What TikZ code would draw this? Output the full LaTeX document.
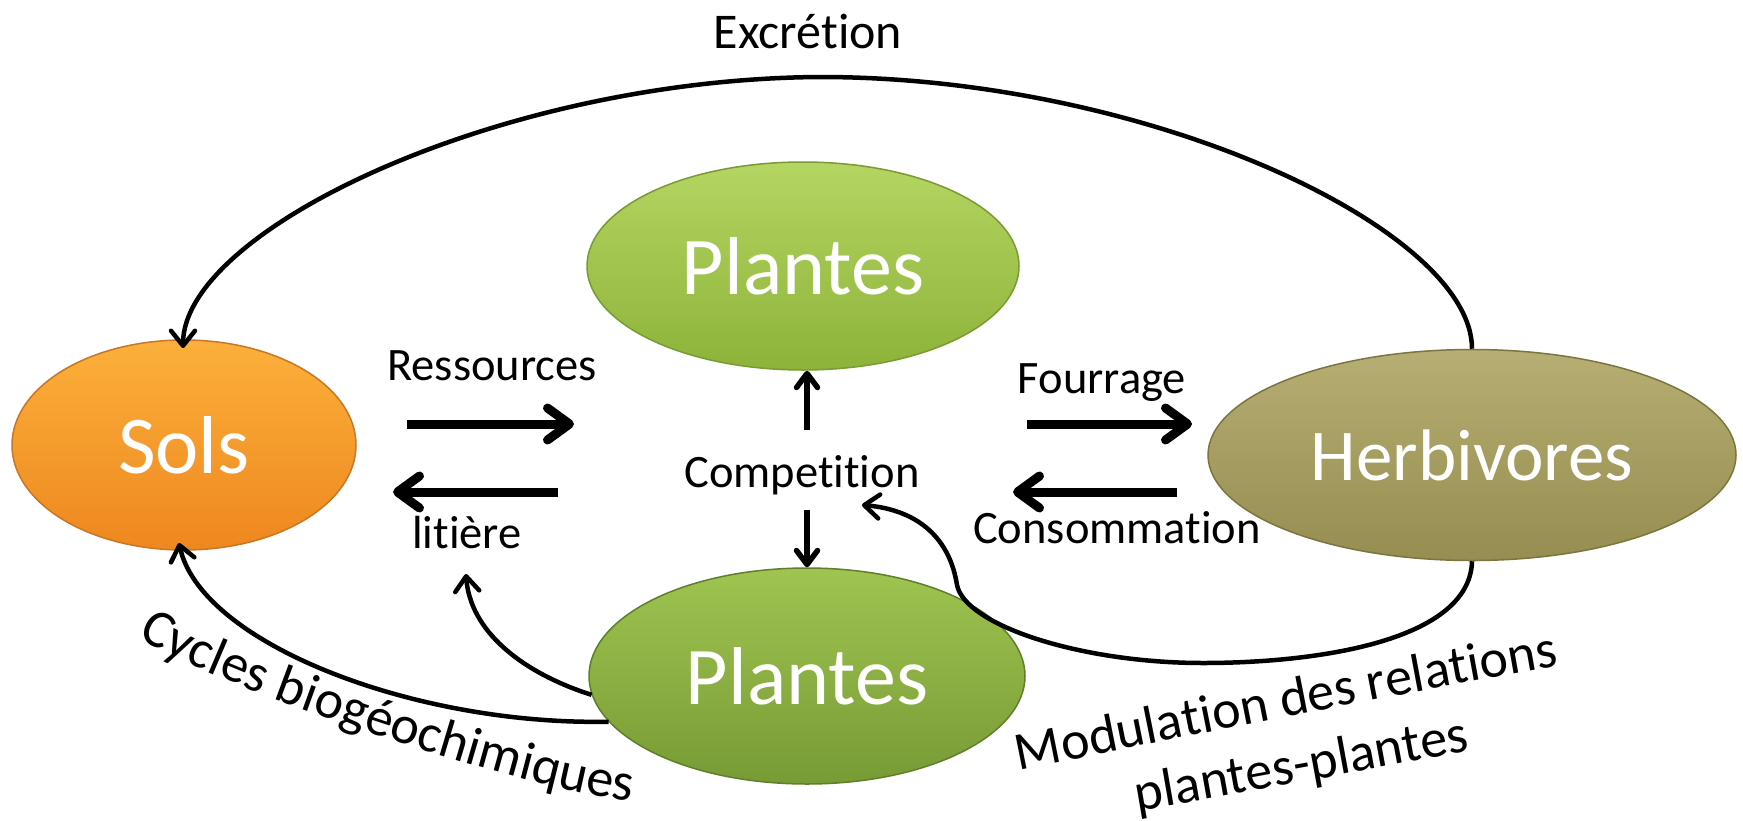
\documentclass[tikz,border=0pt]{standalone}
\usepackage{fontspec}
\setmainfont{Carlito}[Ligatures=NoCommon]
\usetikzlibrary{arrows.meta,shapes.geometric,decorations.text,calc}

\definecolor{solsTop}{HTML}{FBB03B}
\definecolor{solsMid}{HTML}{F7941E}
\definecolor{solsBot}{HTML}{EE871F}
\definecolor{solsEdge}{HTML}{C97626}
\definecolor{plaTop}{HTML}{B5D562}
\definecolor{plaMid}{HTML}{9EC245}
\definecolor{plaBot}{HTML}{8DB33A}
\definecolor{plaEdge}{HTML}{7A9A34}
\definecolor{plbTop}{HTML}{A0C450}
\definecolor{plbMid}{HTML}{85A93D}
\definecolor{plbBot}{HTML}{779B35}
\definecolor{plbEdge}{HTML}{5F7F2A}
\definecolor{herTop}{HTML}{B6AE72}
\definecolor{herMid}{HTML}{A39B5C}
\definecolor{herBot}{HTML}{968E50}
\definecolor{herEdge}{HTML}{7C7540}

\begin{document}
\begin{tikzpicture}[x=1pt,y=-1pt,
  blob/.style={ellipse, inner sep=0pt, line width=1.5pt, text=white},
  bigfont/.style={font=\fontsize{82}{90}\selectfont},
  lab/.style={font=\fontsize{46.5}{52}\selectfont, anchor=base, inner sep=0pt},
  fat/.style={line width=9pt, -{Straight Barb[length=22pt,width=32pt,round]}},
  link/.style={line width=4.5pt, -{Straight Barb[length=15pt,width=24pt,round]}},
  compet/.style={line width=5.5pt, -{Straight Barb[length=14pt,width=21pt,round]}}
]
\useasboundingbox (0,0) rectangle (1743,820);
\fill[white] (0,0) rectangle (1743,820);

% the four compartments
\node[blob, bigfont, minimum width=344pt, minimum height=210pt,
      draw=solsEdge, top color=solsTop, middle color=solsMid, bottom color=solsBot]
      (sols) at (184,445) {Sols};
\node[blob, bigfont, minimum width=432pt, minimum height=208pt,
      draw=plaEdge, top color=plaTop, middle color=plaMid, bottom color=plaBot]
      (p1) at (803,266) {Plantes};
\node[blob, bigfont, minimum width=436pt, minimum height=216pt,
      draw=plbEdge, top color=plbTop, middle color=plbMid, bottom color=plbBot]
      (p2) at (807,676) {Plantes};
\node[blob, font=\fontsize{73}{80}\selectfont, minimum width=528pt, minimum height=211pt,
      draw=herEdge, top color=herTop, middle color=herMid, bottom color=herBot]
      (herb) at (1472,455) {Herbivores};

% labels
\node[lab, font=\fontsize{50}{56}\selectfont] (excr) at (808,48) {Excrétion};
\node[lab] (ress) at (492,380) {Ressources};
\node[lab] (lit)  at (467,548) {litière};
\node[lab] (comp) at (802,487) {Competition};
\node[lab] (four) at (1102,393) {Fourrage};
\node[lab] (cons) at (1117,543) {Consommation};

% free ends of the connectors
\coordinate (rs1) at (407,424);  \coordinate (rs2) at (574,424);
\coordinate (lt1) at (558,492);  \coordinate (lt2) at (393,492);
\coordinate (fo1) at (1027,424); \coordinate (fo2) at (1192,424);
\coordinate (co1) at (1177,492); \coordinate (co2) at (1013,492);
\coordinate (cu)  at (807,430);  \coordinate (cd)  at (807,510);
\coordinate (apex) at (820,77);
\coordinate (exT) at (183,348);
\coordinate (cyT) at (179,543);
\coordinate (ltT) at (466,574);
\coordinate (mtip) at (862,505);

% straight flows
\draw[fat] (rs1) -- (rs2);
\draw[fat] (lt1) -- (lt2);
\draw[fat] (fo1) -- (fo2);
\draw[fat] (co1) -- (co2);

% competition between the two plant groups
\draw[compet] (cu) -- (cu |- p1.south);
\draw[compet] (cd) -- (cd |- p2.north);

% excretion: herbivores back to the soil
\draw[link] (herb.north) .. controls (1472,230) and (1150,77) .. (apex)
            .. controls (500,79) and (183,230) .. (exT);

% biogeochemical cycles and litter
\draw[link] (p2.193) -- ++(-20,0) .. controls (400,720) and (200,640) .. (cyT);
\draw[link] (p2.185) .. controls (520,672) and (470,630) .. (ltT);

% herbivores modulate plant-plant relations
\draw[link] (herb.south) .. controls (1470,640) and (1320,663) .. (1203,663)
            .. controls (1080,663) and (965,625) .. (957,585)
            .. controls (950,540) and (920,510) .. (mtip);

% curved captions
\path[decorate, decoration={text along path, text align=center,
      text={|\fontsize{54}{60}\selectfont|Cycles biogéochimiques}}]
      (146,642) .. controls (236,694) and (512,785) .. (622,800);
\path[decorate, decoration={text along path, text align=center,
      text={|\fontsize{54}{60}\selectfont|Modulation des relations}}]
      (1020,770) .. controls (1200,734) and (1380,697) .. (1558,666);
\path[decorate, decoration={text along path, text align=center,
      text={|\fontsize{54}{60}\selectfont|plantes-plantes}}]
      (1138,811) .. controls (1250,792) and (1360,771) .. (1470,751);
\end{tikzpicture}
\end{document}
